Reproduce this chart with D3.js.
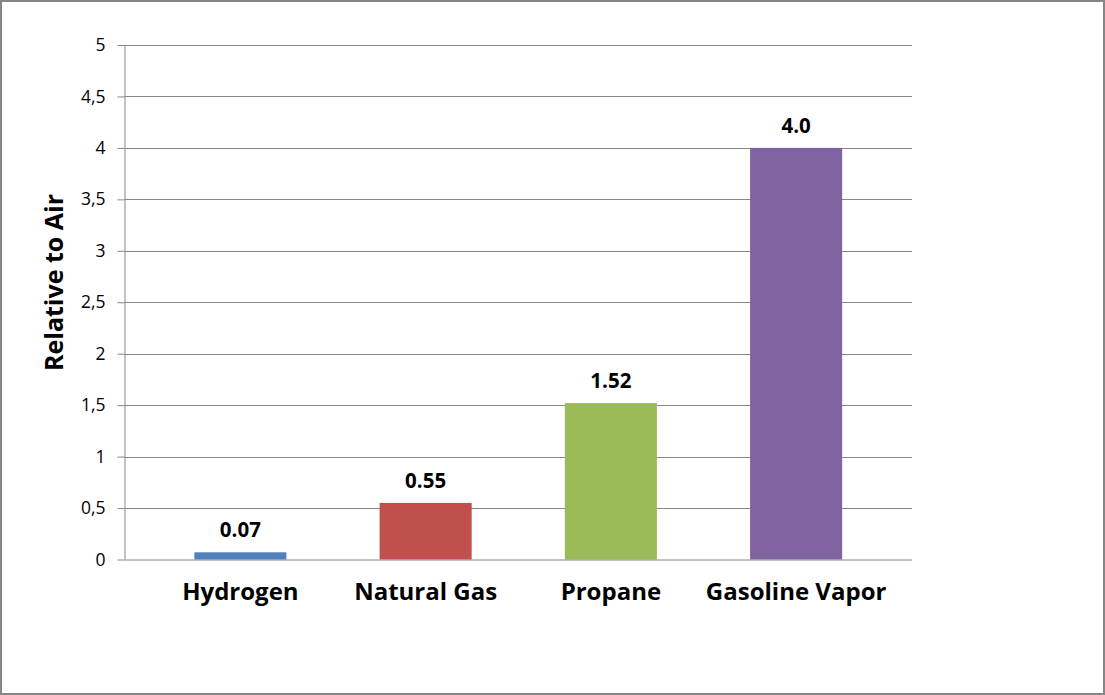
<!DOCTYPE html>
<html>
<head>
<meta charset="utf-8">
<script src="https://cdn.jsdelivr.net/npm/d3@7"></script>
<style>
  html, body { margin: 0; padding: 0; background: #fff; }
  svg { display: block; }
</style>
</head>
<body>
<svg id="chart" width="1105" height="695"></svg>
<script>
const categories = ["Hydrogen", "Natural Gas", "Propane", "Gasoline Vapor"];
const values = [0.07, 0.55, 1.52, 4.0];
const valueLabels = ["0.07", "0.55", "1.52", "4.0"];
const colors = ["#4F81BD", "#C0504D", "#9BBB59", "#8064A2"];
const yTicks = [0, 0.5, 1, 1.5, 2, 2.5, 3, 3.5, 4, 4.5, 5];
const yTitle = "Relative to Air";

(function () {
const svg = d3.select("#chart");
const W = 1105, H = 695;
const mLeft = 124.5, mRight = 912, mTop = 45, mBottom = 559.5;
const font = "'Open Sans', sans-serif";
const gridColor = "#868686";

svg.append("rect").attr("x", 1).attr("y", 1).attr("width", W - 2).attr("height", H - 2)
  .attr("fill", "#fff").attr("stroke", "#868686").attr("stroke-width", 2);

const x = d3.scaleBand().domain(categories).range([mLeft, mRight])
  .paddingInner(0.503).paddingOuter(0.377);
const y = d3.scaleLinear().domain([0, 5]).range([mBottom, mTop]);

// gridlines
svg.append("g").selectAll("line").data(yTicks.filter(t => t > 0)).join("line")
  .attr("x1", mLeft).attr("x2", mRight)
  .attr("y1", d => Math.round(y(d)) + 0.5).attr("y2", d => Math.round(y(d)) + 0.5)
  .attr("stroke", gridColor).attr("stroke-width", 1);

// bars
svg.append("g").selectAll("rect").data(categories).join("rect")
  .attr("x", d => x(d))
  .attr("width", x.bandwidth())
  .attr("y", (d, i) => y(values[i]))
  .attr("height", (d, i) => y(0) - y(values[i]))
  .attr("fill", (d, i) => colors[i]);

// y axis
const yAxis = d3.axisLeft(y).tickValues(yTicks).tickSize(7).tickPadding(12)
  .tickFormat(d => String(d).replace(".", ","));
const yg = svg.append("g").attr("transform", `translate(${mLeft},0)`).call(yAxis);
yg.select(".domain").attr("stroke", gridColor).attr("d", `M0.5,${mTop}V${mBottom}`);
yg.selectAll(".tick line").attr("stroke", gridColor);
yg.selectAll(".tick text").attr("fill", "#000").attr("font-family", font)
  .attr("font-size", 17.5).attr("font-weight", 400);

// x axis baseline
const xAxis = d3.axisBottom(x).tickSize(0);
const xg = svg.append("g").attr("transform", `translate(0,${mBottom})`).call(xAxis);
xg.select(".domain").attr("stroke", gridColor).attr("d", `M${mLeft},0.5H${mRight}`);
xg.selectAll(".tick text").attr("fill", "#000").attr("font-family", font)
  .attr("font-size", 24).attr("font-weight", 700).attr("y", 40.5).attr("dy", 0);

// data labels
svg.append("g").selectAll("text").data(categories).join("text")
  .attr("x", d => x(d) + x.bandwidth() / 2)
  .attr("y", (d, i) => y(values[i]) - 15)
  .attr("text-anchor", "middle")
  .attr("font-family", font).attr("font-size", 20.5).attr("font-weight", 700)
  .attr("fill", "#000")
  .text((d, i) => valueLabels[i]);

// y title
svg.append("text")
  .attr("transform", `translate(63,282.5) rotate(-90)`)
  .attr("text-anchor", "middle")
  .attr("font-family", font).attr("font-size", 25).attr("font-weight", 700)
  .attr("fill", "#000")
  .text(yTitle);
})();
</script>
</body>
</html>
